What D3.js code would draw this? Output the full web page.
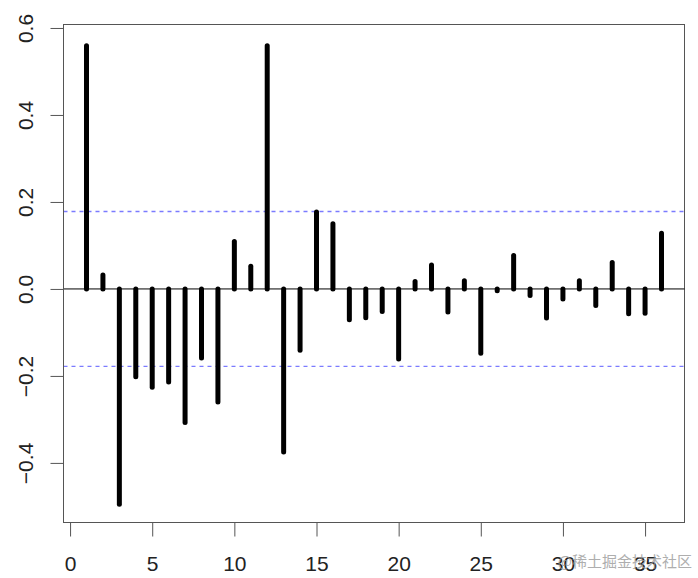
<!DOCTYPE html>
<html>
<head>
<meta charset="utf-8">
<script src="https://cdn.jsdelivr.net/npm/d3@7"></script>
<style>
  body { margin: 0; background: #fff; }
  svg { display: block; font-family: "Liberation Sans", Arial, sans-serif; }
</style>
</head>
<body>
<div id="chart"></div>
<script>
// 自相关系数 (lag 1..36)
const lags = d3.range(1, 37);
const acfValues = [
  0.559, 0.032, -0.495, -0.202, -0.226, -0.214, -0.307, -0.159, -0.260, 0.109,
  0.052, 0.559, -0.375, -0.141, 0.177, 0.150, -0.071, -0.066, -0.052, -0.161,
  0.017, 0.055, -0.053, 0.019, -0.148, -0.004, 0.077, -0.015, -0.067, -0.023,
  0.019, -0.038, 0.061, -0.057, -0.056, 0.128
];
const confLimit = 0.178;
const xTicks = [0, 5, 10, 15, 20, 25, 30, 35];
const yTicks = [-0.4, -0.2, 0.0, 0.2, 0.4, 0.6];

const width = 698, height = 578;
const box = { left: 63.5, right: 684.5, top: 24.5, bottom: 522.5 };

const svg = d3.select("#chart").append("svg")
  .attr("width", width)
  .attr("height", height);

// R 默认坐标轴两端各扩 4%
const x = d3.scaleLinear().domain([-0.4, 37.4]).range([box.left, box.right]);
const y = d3.scaleLinear().domain([-0.537, 0.608]).range([box.bottom, box.top]);

// 边框
svg.append("rect")
  .attr("x", box.left).attr("y", box.top)
  .attr("width", box.right - box.left)
  .attr("height", box.bottom - box.top)
  .attr("fill", "none")
  .attr("stroke", "#555")
  .attr("stroke-width", 1);

// 零线
svg.append("line")
  .attr("x1", box.left).attr("x2", box.right)
  .attr("y1", y(0)).attr("y2", y(0))
  .attr("stroke", "#000").attr("stroke-width", 1);

// 置信区间 蓝色虚线
svg.selectAll(".clim")
  .data([confLimit, -confLimit])
  .enter().append("line")
  .attr("class", "clim")
  .attr("x1", box.left).attr("x2", box.right)
  .attr("y1", d => y(d)).attr("y2", d => y(d))
  .attr("stroke", "#7b7bff")
  .attr("stroke-width", 1.3)
  .attr("stroke-dasharray", "4,4");

// 竖线
svg.selectAll(".bar")
  .data(lags)
  .enter().append("line")
  .attr("class", "bar")
  .attr("x1", d => x(d)).attr("x2", d => x(d))
  .attr("y1", y(0))
  .attr("y2", (d, i) => y(acfValues[i]))
  .attr("stroke", "#000")
  .attr("stroke-width", 5)
  .attr("stroke-linecap", "round");

// x 轴
const xAxis = svg.append("g")
  .attr("transform", "translate(0," + box.bottom + ")")
  .call(d3.axisBottom(x).tickValues(xTicks).tickSize(14).tickPadding(20).tickFormat(d3.format("d")));
xAxis.select(".domain").remove();
xAxis.append("line")
  .attr("x1", x(0)).attr("x2", x(35))
  .attr("stroke", "#555");
xAxis.selectAll(".tick line").attr("stroke", "#555");
xAxis.selectAll("text")
  .attr("fill", "#222")
  .style("font-size", "21px")
  .style("font-family", "Liberation Sans, Arial, sans-serif");

// y 轴
const yAxis = svg.append("g")
  .attr("transform", "translate(" + box.left + ",0)")
  .call(d3.axisLeft(y).tickValues(yTicks).tickSize(13).tickFormat(d3.format(".1f")));
yAxis.select(".domain").remove();
yAxis.append("line")
  .attr("y1", y(-0.4)).attr("y2", y(0.6))
  .attr("stroke", "#555");
yAxis.selectAll(".tick line").attr("stroke", "#555");
yAxis.selectAll("text")
  .attr("x", null).attr("dy", null)
  .attr("text-anchor", "middle")
  .attr("transform", "translate(-31,0) rotate(-90)")
  .attr("fill", "#222")
  .style("font-size", "21px")
  .style("font-family", "Liberation Sans, Arial, sans-serif");

// 水印
svg.append("text")
  .attr("x", 692).attr("y", 567)
  .attr("text-anchor", "end")
  .attr("fill", "#9a9a9a")
  .attr("opacity", 0.8)
  .style("font-size", "15px")
  .style("font-family", "Noto Sans CJK SC, sans-serif")
  .text("@稀土掘金技术社区");
</script>
</body>
</html>
